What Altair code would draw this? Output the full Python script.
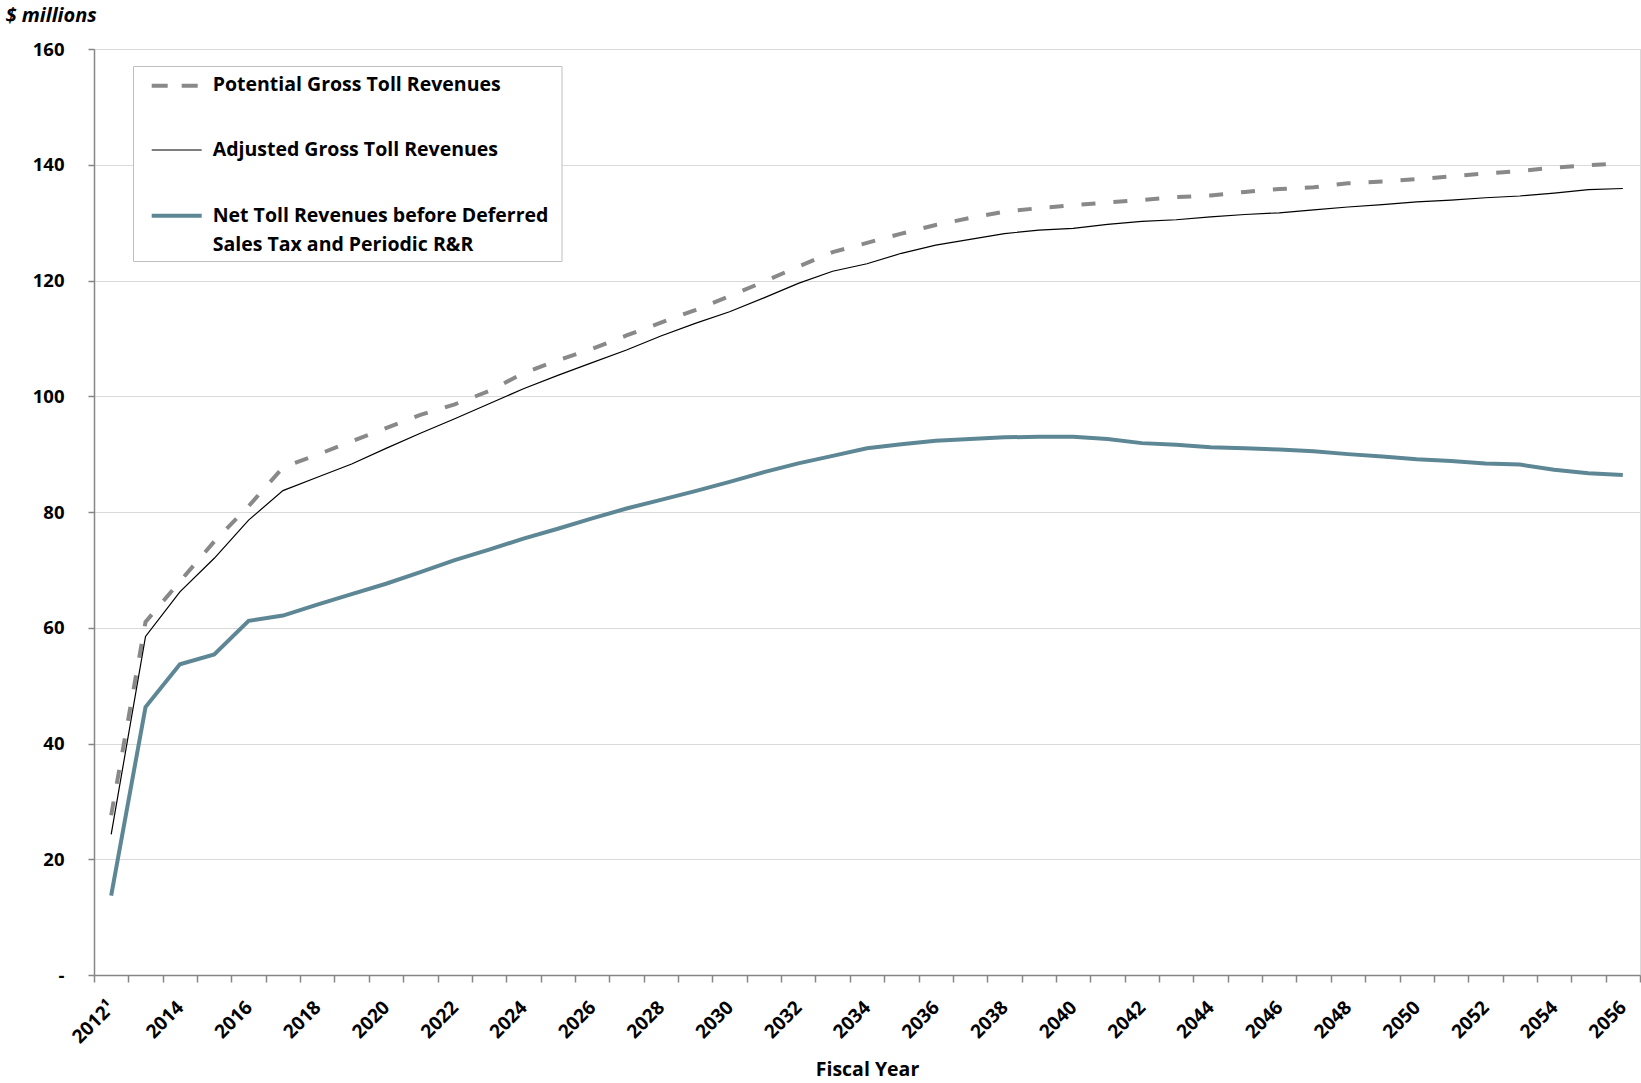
import altair as alt
import pandas as pd

# Fiscal years on the horizontal axis
years = list(range(2012, 2057))

# Revenue series, $ millions
potential_gross = [27.6, 61.0, 68.0, 74.9, 81.0, 87.7, 89.9, 92.2, 94.5, 96.8,
                   98.6, 100.9, 104.0, 106.2, 108.2, 110.5, 112.7, 114.9, 117.3, 119.8,
                   122.4, 124.9, 126.5, 128.1, 129.6, 130.8, 131.9, 132.5, 133.0, 133.5,
                   133.9, 134.4, 134.7, 135.3, 135.8, 136.1, 136.8, 137.1, 137.5, 138.0,
                   138.5, 138.9, 139.5, 139.9, 140.3]
adjusted_gross = [24.3, 58.5, 66.2, 72.0, 78.6, 83.7, 86.0, 88.3, 91.0, 93.6,
                  96.1, 98.7, 101.3, 103.6, 105.8, 108.0, 110.4, 112.6, 114.6, 117.0,
                  119.5, 121.6, 122.9, 124.7, 126.1, 127.1, 128.1, 128.7, 129.0, 129.7,
                  130.2, 130.5, 131.0, 131.4, 131.7, 132.2, 132.7, 133.1, 133.6, 133.9,
                  134.3, 134.6, 135.1, 135.7, 135.9]
net_toll = [13.7, 46.3, 53.7, 55.4, 61.2, 62.1, 64.0, 65.8, 67.6, 69.6,
            71.7, 73.5, 75.4, 77.1, 78.9, 80.6, 82.1, 83.6, 85.2, 86.9,
            88.4, 89.7, 91.0, 91.7, 92.3, 92.6, 92.9, 93.0, 93.0, 92.6,
            91.9, 91.6, 91.2, 91.0, 90.8, 90.5, 90.0, 89.6, 89.1, 88.8,
            88.4, 88.2, 87.3, 86.7, 86.4]

series_names = [
    "Potential Gross Toll Revenues",
    "Adjusted Gross Toll Revenues",
    "Net Toll Revenues before Deferred Sales Tax and Periodic R&R",
]
# legend lines for each series (the long name wraps onto two lines)
legend_lines = [
    ["Potential Gross Toll Revenues"],
    ["Adjusted Gross Toll Revenues"],
    ["Net Toll Revenues before Deferred", "Sales Tax and Periodic R&R"],
]

y_ticks = [0, 20, 40, 60, 80, 100, 120, 140, 160]

FONT = "Open Sans"
GRAY_DASH = "#898989"
TEAL = "#5e8795"
AXIS_GRAY = "#868686"
GRID_GRAY = "#d9d9d9"

rows = []
for name, vals in zip(series_names, [potential_gross, adjusted_gross, net_toll]):
    for yr, v in zip(years, vals):
        rows.append({"year": yr, "series": name, "value": v})
df = pd.DataFrame(rows)

x_enc = alt.X(
    "year:O",
    bandPosition=0.5,
    scale=alt.Scale(type="band", paddingInner=0, paddingOuter=0),
    axis=alt.Axis(
        title="Fiscal Year",
        tickBand="extent",
        labelExpr="datum.value % 2 == 0 ? (datum.value == 2012 ? '2012\u00b9' : datum.label) : ''",
        labelAngle=-45,
        labelAlign="right",
        labelBaseline="middle",
        labelPadding=22,
        labelOverlap=False,
        labelFontSize=19,
        tickSize=7,
        tickColor=AXIS_GRAY,
        tickWidth=1.5,
        domainColor=AXIS_GRAY,
        domainWidth=1.5,
        grid=False,
        titleY=100,
        titleBaseline="alphabetic",
        titleFontSize=19.5,
    ),
)
y_enc = alt.Y(
    "value:Q",
    scale=alt.Scale(domain=[0, 160], nice=False, zero=True),
    axis=alt.Axis(
        values=y_ticks,
        labelExpr="datum.value == 0 ? '-' : datum.label",
        labelPadding=24,
        labelFontSize=18.5,
        tickSize=6,
        tickColor=AXIS_GRAY,
        tickWidth=1.5,
        domainColor=AXIS_GRAY,
        domainWidth=1.5,
        grid=True,
        gridColor=GRID_GRAY,
        gridWidth=1,
        title="$ millions",
        titleAngle=0,
        titleAlign="left",
        titleBaseline="alphabetic",
        titleFontStyle="italic",
        titleFontSize=20,
        titleX=-89,
        titleY=-28,
    ),
)

base = alt.Chart(df).encode(x=x_enc, y=y_enc)

net_line = base.transform_filter(alt.datum.series == series_names[2]).mark_line(
    color=TEAL, strokeWidth=4
)
potential_line = base.transform_filter(alt.datum.series == series_names[0]).mark_line(
    color=GRAY_DASH, strokeWidth=4, strokeDash=[14, 18]
)
adjusted_line = base.transform_filter(alt.datum.series == series_names[1]).mark_line(
    color="black", strokeWidth=1.2
)

# Legend box drawn inside the plot area
one = alt.Data(values=[{"k": 0}])
legend_box = alt.Chart(one).mark_rect(fill="white", stroke="#bfbfbf", strokeWidth=1).encode(
    x=alt.value(39.5), x2=alt.value(468), y=alt.value(17.5), y2=alt.value(212.5)
)
swatch_styles = [
    dict(color=GRAY_DASH, strokeWidth=4, strokeDash=[16, 14]),
    dict(color="black", strokeWidth=1.2),
    dict(color=TEAL, strokeWidth=4),
]
swatch_y = [36.7, 101, 166.7]
text_y = [41.7, 107, 172.7]
line_gap = 29.3

legend_layers = [legend_box]
for style, sy, ty, lines in zip(swatch_styles, swatch_y, text_y, legend_lines):
    legend_layers.append(
        alt.Chart(one).mark_rule(**style).encode(
            x=alt.value(57.7), x2=alt.value(107.7), y=alt.value(sy)
        )
    )
    for i, line in enumerate(lines):
        legend_layers.append(
            alt.Chart(one).mark_text(
                align="left", baseline="alphabetic", font=FONT,
                fontWeight="bold", fontSize=19.5, color="black",
            ).encode(x=alt.value(118.7), y=alt.value(ty + i * line_gap), text=alt.value(line))
        )

chart = alt.layer(
    net_line, potential_line, adjusted_line, *legend_layers
).properties(
    width=1546,
    height=926,
    padding={"left": 94, "top": 49, "right": 1, "bottom": 108},
    autosize=alt.AutoSizeParams(type="none"),
    background="white",
).configure_view(
    stroke=GRID_GRAY, strokeWidth=1
).configure_axis(
    labelFont=FONT, labelFontWeight="bold", labelColor="black",
    titleFont=FONT, titleFontWeight="bold", titleColor="black",
)

chart.save("out.html", embed_options={"renderer": "svg", "actions": False})
